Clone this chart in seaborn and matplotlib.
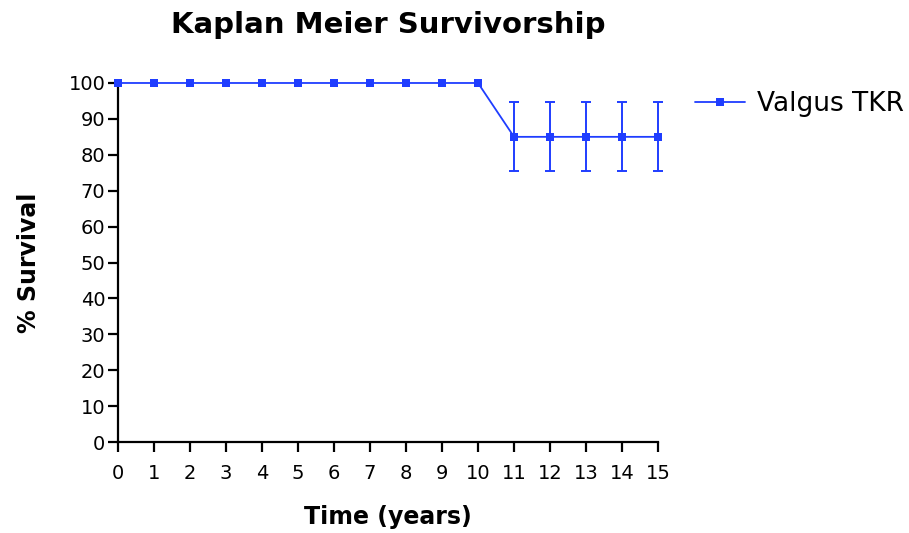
import numpy as np
import pandas as pd
import matplotlib
matplotlib.use('Agg')
import matplotlib.pyplot as plt
import seaborn as sns

#-----------------------------------------------
years=np.arange(0, 16)
survival=[100]*11 + [85]*5
err=[0]*11 + [9.6]*5
series='Valgus TKR'
color='#1f3dff'

df=pd.DataFrame({'year': years, 'surv': survival, 'err': err, 'group': series})

#######################################################
sns.set_style('ticks')
plt.rcParams['font.family']=['DejaVu Sans']
plt.rcParams['text.color']='black'
plt.rcParams['axes.labelcolor']='black'

fig=plt.figure(figsize=(9.09, 5.33), dpi=100)
ax=fig.add_axes([0.1298, 0.1707, 0.5941, 0.6736])

sns.lineplot(data=df, x='year', y='surv', hue='group', palette=[color], marker='s',
             markersize=6, markeredgewidth=0, linewidth=1.3, ax=ax, legend=True,
             clip_on=False, zorder=5)
#error bars only where present
sub=df[df['err']>0]
ax.errorbar(sub['year'], sub['surv'], yerr=sub['err'], fmt='none', ecolor=color,
            elinewidth=1.4, capsize=3.3, capthick=1.4, clip_on=False)

#adjust
ax.set_xlim(0, 15)
ax.set_ylim(0, 100)
ax.set_xticks(years)
ax.set_yticks(np.arange(0, 101, 10))
sns.despine(ax=ax)
for s in ['left', 'bottom']:
    ax.spines[s].set_linewidth(1.6)
    ax.spines[s].set_color('black')
ax.tick_params(width=1.6, length=7, labelsize=14, color='black', labelcolor='black')
ax.tick_params(axis='x', pad=9)
ax.tick_params(axis='y', pad=2)

ax.set_xlabel('Time (years)', fontsize=17, fontweight='bold', labelpad=16)
ax.set_ylabel('% Survival', fontsize=17, fontweight='bold', labelpad=20)
ax.set_title('Kaplan Meier Survivorship', fontsize=21, fontweight='bold', pad=36)

leg=ax.legend(loc='center left', bbox_to_anchor=(695/909, 1-104/533), bbox_transform=fig.transFigure,
              frameon=False, fontsize=19, handlelength=1.9, handletextpad=0.45,
              borderpad=0, borderaxespad=0)

#save
fig.savefig('out.png', dpi=100)
plt.close()
